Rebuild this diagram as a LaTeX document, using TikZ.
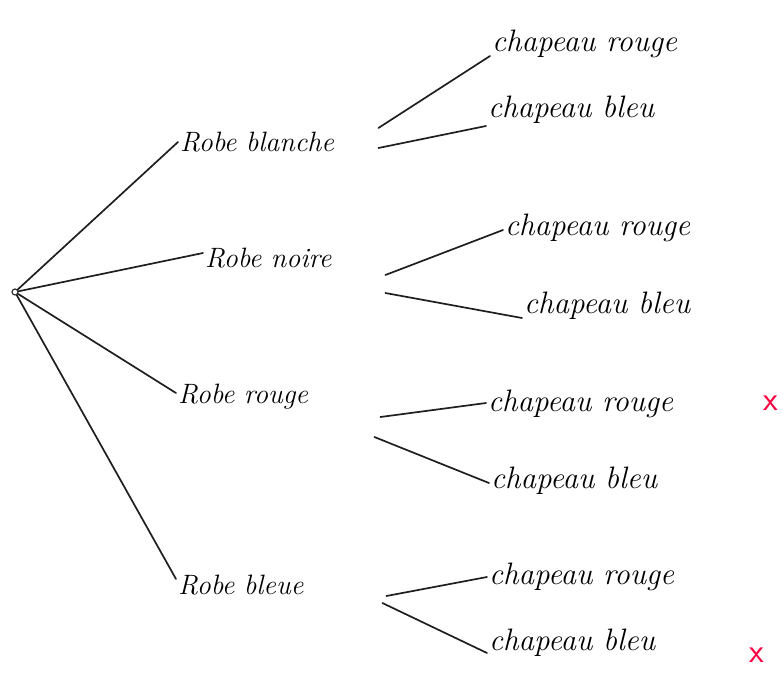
\documentclass[tikz,border=0pt]{standalone}
\usepackage{fontspec}
\begin{document}
\begin{tikzpicture}[x=1pt, y=-1pt,
  ink/.style={draw=black!88, line width=1.7pt, line cap=round},
  leaf/.style={anchor=west, inner sep=2pt, font=\fontsize{31}{34}\selectfont\itshape},
  robe/.style={anchor=west, inner sep=2pt, align=left, text width=#1,
               font=\fontsize{28}{31}\selectfont\itshape},
  cross/.style={text=red!75!magenta, inner sep=0pt,
                font=\fontsize{34}{34}\selectfont\sffamily}]
  \useasboundingbox (0,0) rectangle (784,681);

  % root of the tree
  \node[circle, draw=black!80, line width=1.2pt, inner sep=0pt, minimum size=6pt] (root) at (15,292) {};

  % first level: the dresses
  \node[robe=196pt] (b1) at (178,142) {Robe blanche};
  \node[robe=178pt] (b2) at (203,258) {Robe noire};
  \node[robe=200pt] (b3) at (176,397) {Robe rouge};
  \node[robe=206pt] (b4) at (176,585) {Robe bleue};

  % second level: the hats
  \node[leaf] (c11) at (490,44)  {chapeau rouge};
  \node[leaf] (c12) at (486,110) {chapeau bleu};
  \node[leaf] (c21) at (503,228) {chapeau rouge};
  \node[leaf] (c22) at (522,306) {chapeau bleu};
  \node[leaf] (c31) at (486,404) {chapeau rouge};
  \node[leaf] (c32) at (489,481) {chapeau bleu};
  \node[leaf] (c41) at (487,577) {chapeau rouge};
  \node[leaf] (c42) at (487,643) {chapeau bleu};

  % excluded combinations
  \node[cross] (x1) at (771,403) {x};
  \node[cross] (x2) at (757,655) {x};

  % branches from the root
  \draw[ink] (root) -- (b1.west);
  \draw[ink] (root) -- ([yshift=5pt]b2.west);
  \draw[ink] (root) -- ([yshift=4pt]b3.west);
  \draw[ink] (root) -- ([yshift=6pt]b4.west);

  % branches to the hats
  \draw[ink] ([yshift=14pt]b1.east) -- ([yshift=-12pt]c11.west);
  \draw[ink] ([yshift=-6pt]b1.east) -- ([yshift=-16pt]c12.west);
  \draw[ink] ([yshift=-17pt]b2.east) -- ([yshift=-2pt]c21.west);
  \draw[ink] ([yshift=-35pt]b2.east) -- ([yshift=-12pt]c22.west);
  \draw[ink] ([yshift=-20pt]b3.east) -- ([yshift=1pt]c31.west);
  \draw[ink] ([xshift=-6pt,yshift=-40pt]b3.east) -- ([yshift=-2pt]c32.west);
  \draw[ink] ([yshift=-11pt]b4.east) -- (c41.west);
  \draw[ink] ([xshift=-4pt,yshift=-18pt]b4.east) -- ([yshift=-10pt]c42.west);
\end{tikzpicture}
\end{document}
